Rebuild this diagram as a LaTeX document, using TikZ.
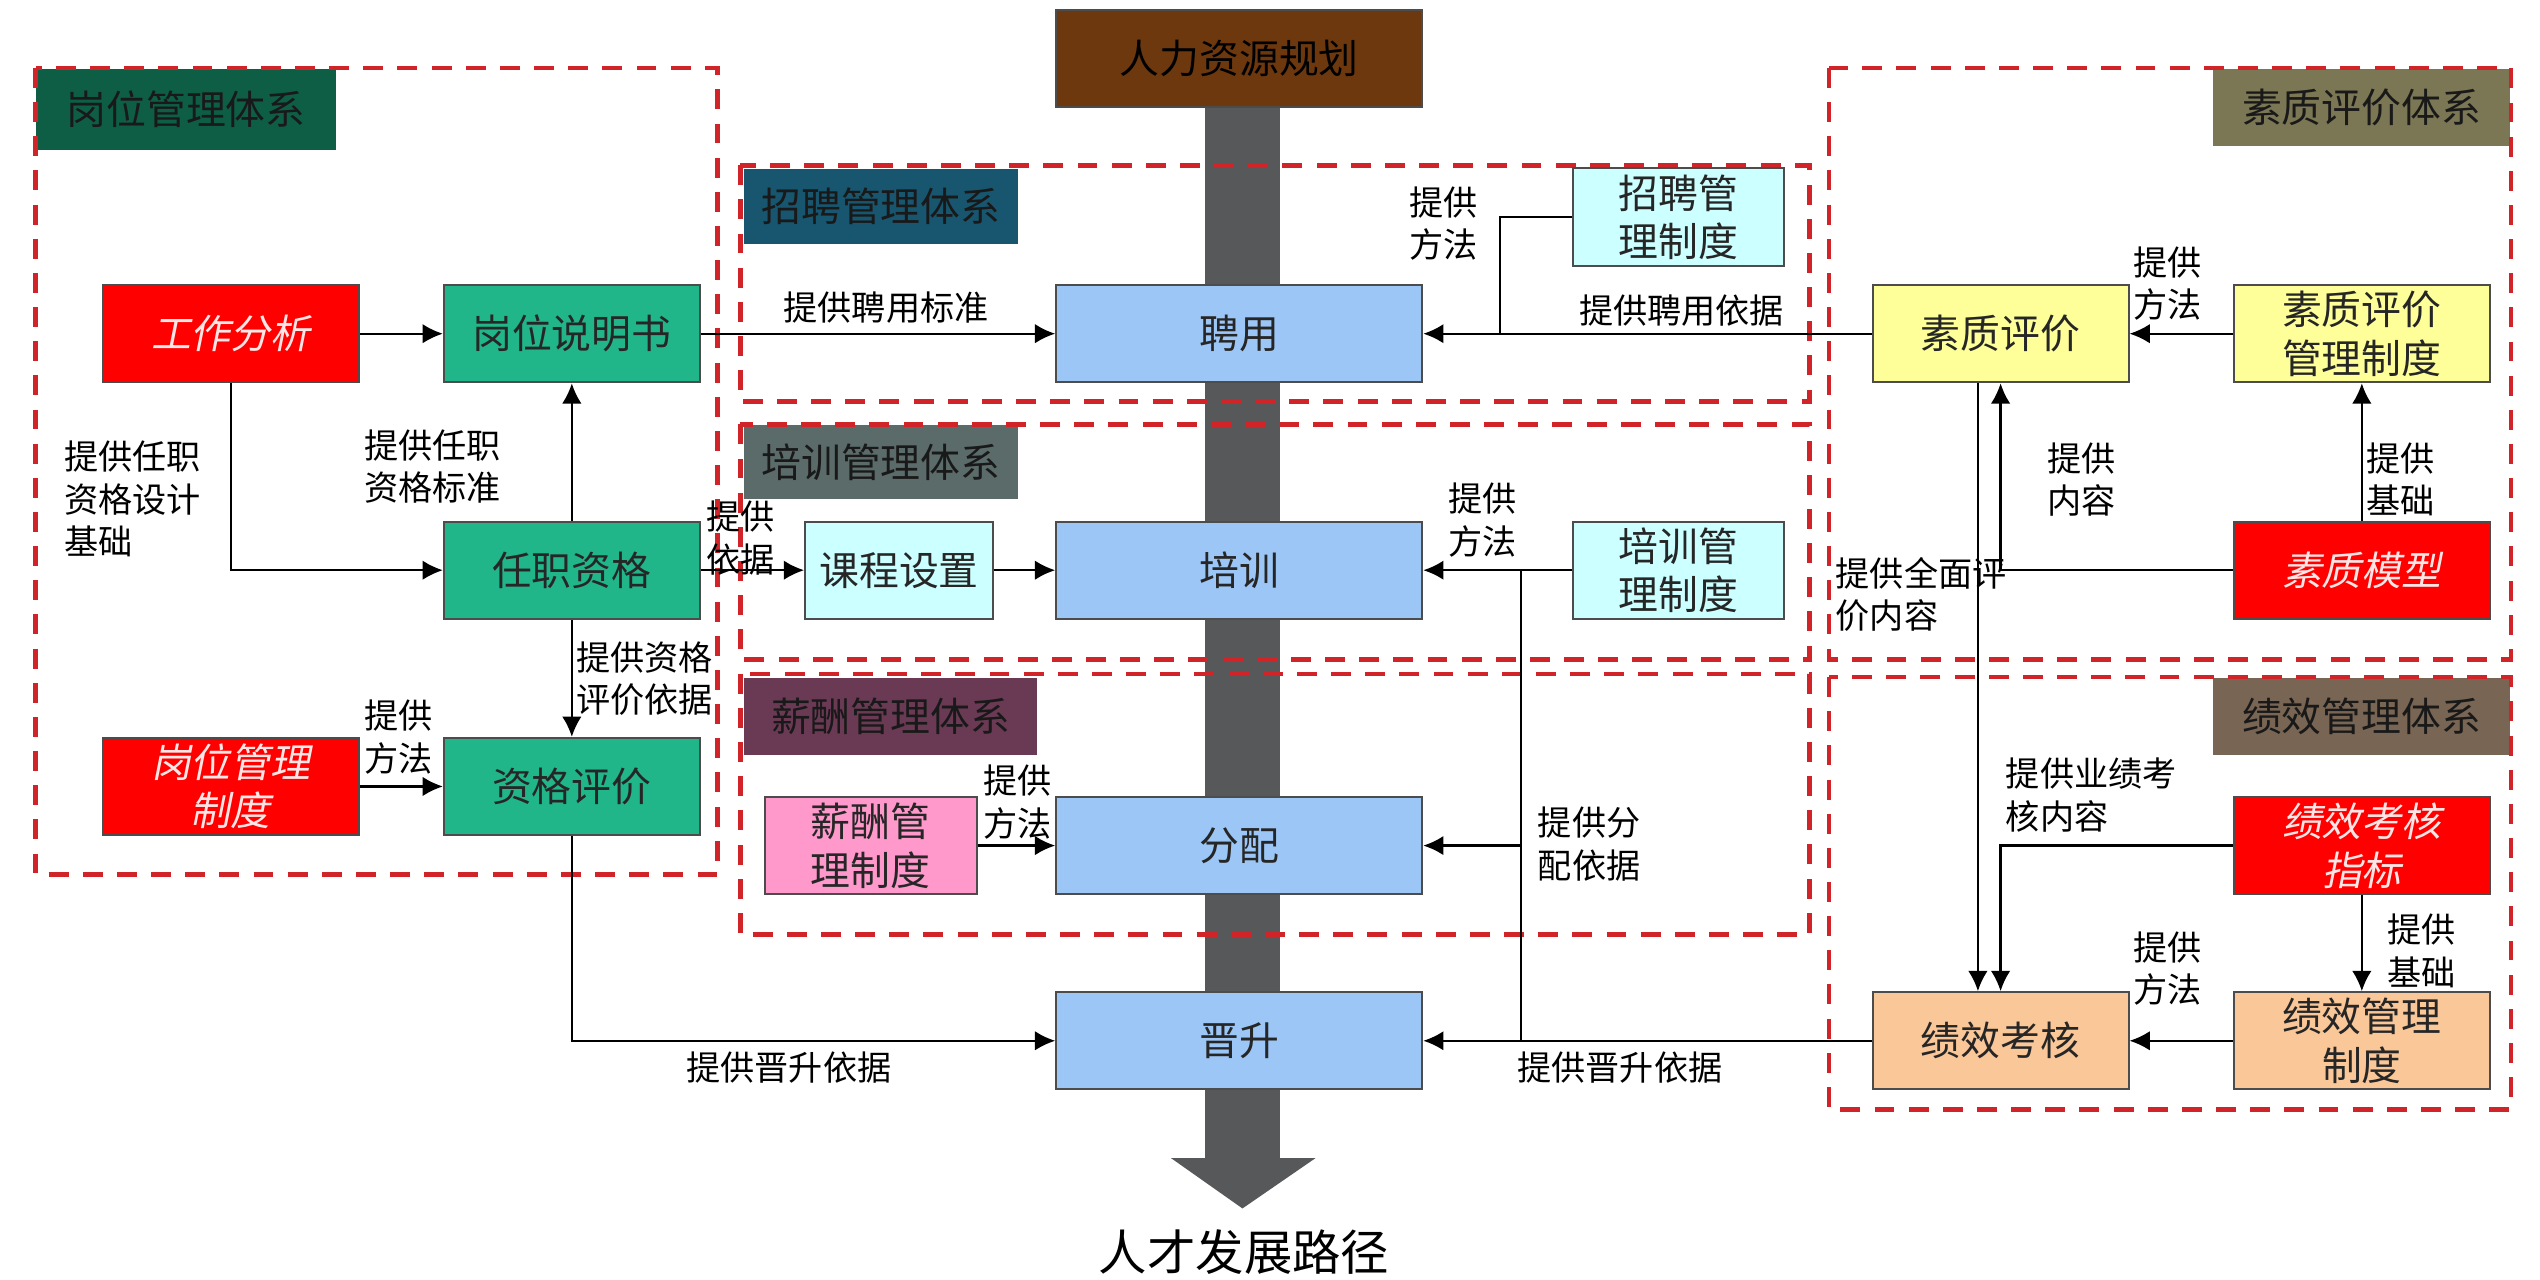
\documentclass[tikz,border=0pt]{standalone}
\usepackage{fontspec}
\setmainfont{Noto Sans CJK SC}
\newfontfamily\xieti[FakeSlant=0.2]{Noto Sans CJK SC}
\usetikzlibrary{arrows.meta}
\definecolor{gwlv}{HTML}{20B68A}
\definecolor{lanse}{HTML}{9CC6F5}
\definecolor{qingse}{HTML}{CCFFFF}
\definecolor{fense}{HTML}{FF99CC}
\definecolor{huangse}{HTML}{FFFF99}
\definecolor{chengse}{HTML}{F9C798}
\definecolor{hongzi}{HTML}{FFE6E6}
\definecolor{gwhead}{HTML}{0D5E45}
\definecolor{zphead}{HTML}{17566E}
\definecolor{pxhead}{HTML}{5A6B6A}
\definecolor{xchead}{HTML}{6A3A55}
\definecolor{szhead}{HTML}{7B7653}
\definecolor{jxhead}{HTML}{786553}
\definecolor{ghcol}{HTML}{6E380E}
\definecolor{zhuzi}{HTML}{57585A}
\definecolor{xuhong}{HTML}{D02428}
\tikzset{
  box/.style={draw=black!70, line width=.7pt, minimum height=1.2cm, inner sep=1pt,
    align=center, font=\fontsize{14}{17}\selectfont, text=black!85},
  lv/.style={box, fill=gwlv, minimum width=3.16cm},
  hong/.style={box, fill=red, minimum width=3.16cm, text=hongzi,
    font=\fontsize{14}{17}\selectfont\xieti},
  lan/.style={box, fill=lanse, minimum width=4.52cm},
  qing/.style={box, fill=qingse},
  fen/.style={box, fill=fense},
  huang/.style={box, fill=huangse, minimum width=3.16cm},
  cheng/.style={box, fill=chengse, minimum width=3.16cm},
  tixi/.style={anchor=north west, inner sep=0pt, font=\fontsize{14}{17}\selectfont, text=black!90},
  biao/.style={font=\fontsize{12}{15}\selectfont, align=left, inner sep=1pt},
  xuxian/.style={draw=xuhong, line width=1.6pt, dash pattern=on 7pt off 5pt}
}
\begin{document}
\begin{tikzpicture}[>={Latex[length=2.5mm,width=2.4mm]}, x=.02cm, y=-.02cm]
\useasboundingbox (0,0) rectangle (1568,790);
\fill[zhuzi] (744,66) rectangle (790,715);
\fill[zhuzi] (723,715)--(812,715)--(767,746)--cycle;
\node[tixi, fill=gwhead, minimum width=3.7cm, minimum height=1cm] (gwtx) at (22,42) {岗位管理体系};
\node[tixi, fill=zphead, minimum width=3.38cm, minimum height=.92cm] (zptx) at (459,104) {招聘管理体系};
\node[tixi, fill=pxhead, minimum width=3.38cm, minimum height=.92cm] (pxtx) at (459,262) {培训管理体系};
\node[tixi, fill=xchead, minimum width=3.62cm, minimum height=.96cm] (xctx) at (459,418) {薪酬管理体系};
\node[tixi, fill=szhead, minimum width=3.66cm, minimum height=.96cm] (sztx) at (1366,42) {素质评价体系};
\node[tixi, fill=jxhead, minimum width=3.66cm, minimum height=.96cm] (jxtx) at (1366,418) {绩效管理体系};
\draw[xuxian] (22,42) rectangle (443,540);
\draw[xuxian] (457,102) rectangle (1117,248);
\draw[xuxian] (457,262) rectangle (1117,407);
\draw[xuxian] (457,416) rectangle (1117,577);
\draw[xuxian] (1129,42) rectangle (1550,407);
\draw[xuxian] (1129,418) rectangle (1550,685);

\node[box, fill=ghcol, minimum width=4.52cm, text=black] (ghua) at (765,36) {人力资源规划};
\node[hong] (gzfx) at (142.5,206) {工作分析};
\node[lv] (gwsms) at (353,206) {岗位说明书};
\node[lv] (rzzg) at (353,352) {任职资格};
\node[lv] (zgpj) at (353,485.5) {资格评价};
\node[hong] (gwzd) at (142.5,485.5) {岗位管理\\制度};
\node[lan] (pinyong) at (765,206) {聘用};
\node[qing, minimum width=2.6cm] (zpzd) at (1036,134) {招聘管\\理制度};
\node[qing, minimum width=2.32cm] (kcsz) at (555,352) {课程设置};
\node[lan] (peixun) at (765,352) {培训};
\node[qing, minimum width=2.6cm] (pxzd) at (1036,352) {培训管\\理制度};
\node[fen, minimum width=2.62cm] (xczd) at (537.5,522) {薪酬管\\理制度};
\node[lan] (fenpei) at (765,522) {分配};
\node[lan] (jinsheng) at (765,642.5) {晋升};
\node[huang] (szpj) at (1235,206) {素质评价};
\node[huang] (szzd) at (1458,206) {素质评价\\管理制度};
\node[hong] (szmx) at (1458,352) {素质模型};
\node[hong] (jxzb) at (1458,522) {绩效考核\\指标};
\node[cheng] (jxkh) at (1235,642.5) {绩效考核};
\node[cheng] (jxzd) at (1458,642.5) {绩效管理\\制度};
\node[font=\fontsize{17}{20}\selectfont] (lujing) at (768,773) {人才发展路径};

\coordinate (zpj) at (926,206);
\coordinate (pxj) at (939,352);
\coordinate (fpj) at (939,522);
\coordinate (jsj) at (939,642.5);
\draw[->, thick] (gzfx) -- (gwsms);
\draw[->, thick] (gzfx) |- (rzzg);
\draw[->, thick] (rzzg) -- (gwsms);
\draw[->, thick] (rzzg) -- (zgpj);
\draw[->, thick] (gwzd) -- (zgpj);
\draw[->, thick] (gwsms) -- (pinyong);
\draw[->, thick] (rzzg) -- (kcsz);
\draw[->, thick] (kcsz) -- (peixun);
\draw[->, thick] (zgpj) |- (jinsheng);
\draw[->, thick] (xczd) -- (fenpei);
\draw[->, thick] (szpj) -- (pinyong);
\draw[thick] (zpzd) -| (zpj);
\draw[->, thick] (pxzd) -- (peixun);
\draw[thick] (pxj) -- (jsj);
\draw[->, thick] (fpj) -- (fenpei);
\draw[->, thick] (jxkh) -- (jinsheng);
\draw[->, thick] (szzd) -- (szpj);
\draw[->, thick] (szmx) -- (szzd);
\draw[->, thick] (szmx) -| (szpj);
\draw[->, thick] ([xshift=-.28cm]szpj.south) -- ([xshift=-.28cm]jxkh.north);
\draw[->, thick] (jxzb) -| (jxkh);
\draw[->, thick] (jxzb) -- (jxzd);
\draw[->, thick] (jxzd) -- (jxkh);

\node[biao] (l1) at (82,308) {提供任职\\资格设计\\基础};
\node[biao] (l2) at (267,288) {提供任职\\资格标准};
\node[biao] (l3) at (398,419) {提供资格\\评价依据};
\node[biao] (l4) at (246,455) {提供\\方法};
\node[biao] (l5) at (547,190) {提供聘用标准};
\node[biao] (l6) at (457,332) {提供\\依据};
\node[biao] (l7) at (487,659) {提供晋升依据};
\node[biao] (l8) at (891,138) {提供\\方法};
\node[biao] (l9) at (1038,192) {提供聘用依据};
\node[biao] (l10) at (915,321) {提供\\方法};
\node[biao] (l11) at (628,495) {提供\\方法};
\node[biao] (l12) at (981,521) {提供分\\配依据};
\node[biao] (l13) at (1000,659) {提供晋升依据};
\node[biao] (l14) at (1338,175) {提供\\方法};
\node[biao] (l15) at (1285,296) {提供\\内容};
\node[biao] (l16) at (1482,296) {提供\\基础};
\node[biao] (l17) at (1186,367) {提供全面评\\价内容};
\node[biao] (l18) at (1291,491) {提供业绩考\\核内容};
\node[biao] (l19) at (1495,587) {提供\\基础};
\node[biao] (l20) at (1338,598) {提供\\方法};
\end{tikzpicture}
\end{document}
